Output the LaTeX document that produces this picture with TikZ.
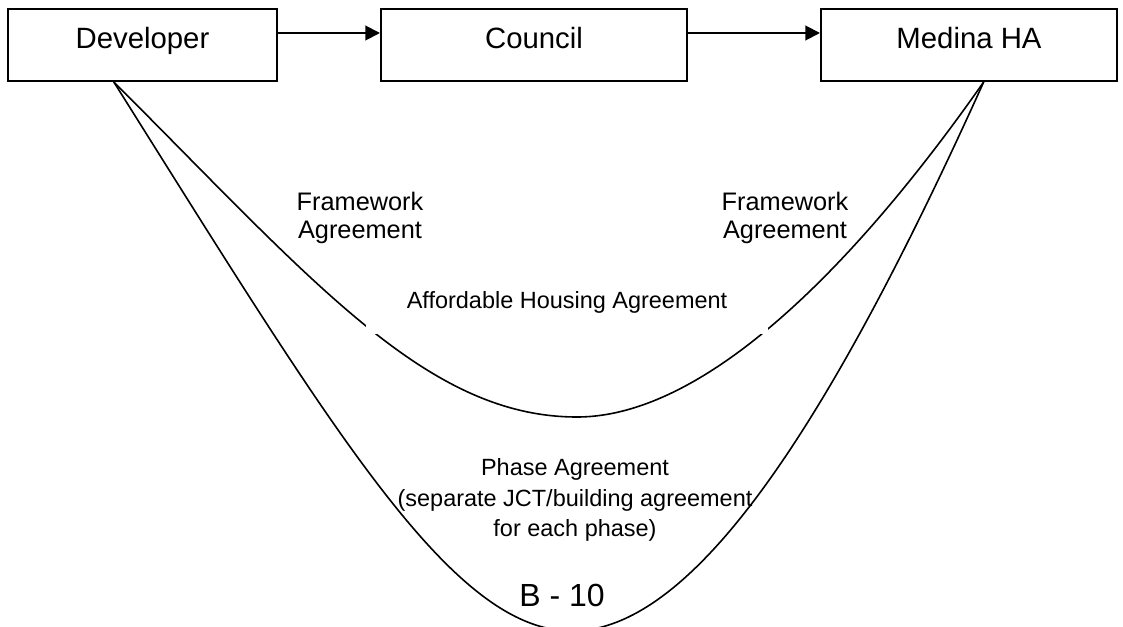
\documentclass[tikz,border=0pt]{standalone}
\usepackage{fontspec}
\setmainfont{Liberation Sans}
\usetikzlibrary{arrows.meta}

\begin{document}
\begin{tikzpicture}[
  x=0.75pt, y=-0.75pt,
  party/.style={draw, line width=1.5pt, minimum height=54pt, text depth=11pt, font=\fontsize{22}{26}\selectfont},
  deal/.style={align=center, font=\fontsize{19}{21}\selectfont},
  tie/.style={line width=1.2pt},
  >={Triangle[length=11pt, width=11pt]}
]
\useasboundingbox (0,0) rectangle (1123,627);
\clip (0,0) rectangle (1123,627);

\node[party, minimum width=201.75pt] (dev) at (142.5,45) {Developer};
\node[party, minimum width=229.5pt] (council) at (534,45) {Council};
\node[party, minimum width=222pt] (medina) at (969,45) {Medina HA};

\draw[->, line width=1.5pt] ([yshift=9pt]dev.east) -- ([yshift=9pt]council.west);
\draw[->, line width=1.5pt] ([yshift=9pt]council.east) -- ([yshift=9pt]medina.west);

\coordinate (devfoot) at ([xshift=-21.5pt]dev.south);
\coordinate (hafoot) at ([xshift=11pt]medina.south);
\coordinate (innerlow) at (577,417);
\coordinate (outerlow) at (572,631);

\draw[tie] (devfoot) .. controls +(200,200) and +(-150,0) .. (innerlow)
  .. controls +(130,0) and +(-126,180) .. (hafoot);
\draw[tie] (devfoot) .. controls +(220,350) and +(-120,0) .. (outerlow)
  .. controls +(120,0) and +(-158,350) .. (hafoot);

\node[deal] (fwleft) at (360,218) {Framework\\Agreement};
\node[deal] (fwright) at (785,218) {Framework\\Agreement};
\node[fill=white, inner sep=0pt, minimum width=301.5pt, minimum height=48pt,
  font=\fontsize{17.6}{21}\selectfont] (housing) at (567,302) {Affordable Housing Agreement};
\node[deal, font=\fontsize{17.6}{23}\selectfont] (phase) at (575,500)
  {Phase Agreement\\(separate JCT/building agreement\\for each phase)};
\node[font=\fontsize{24}{28}\selectfont] (pageno) at (562,595) {B - 10};
\end{tikzpicture}
\end{document}
